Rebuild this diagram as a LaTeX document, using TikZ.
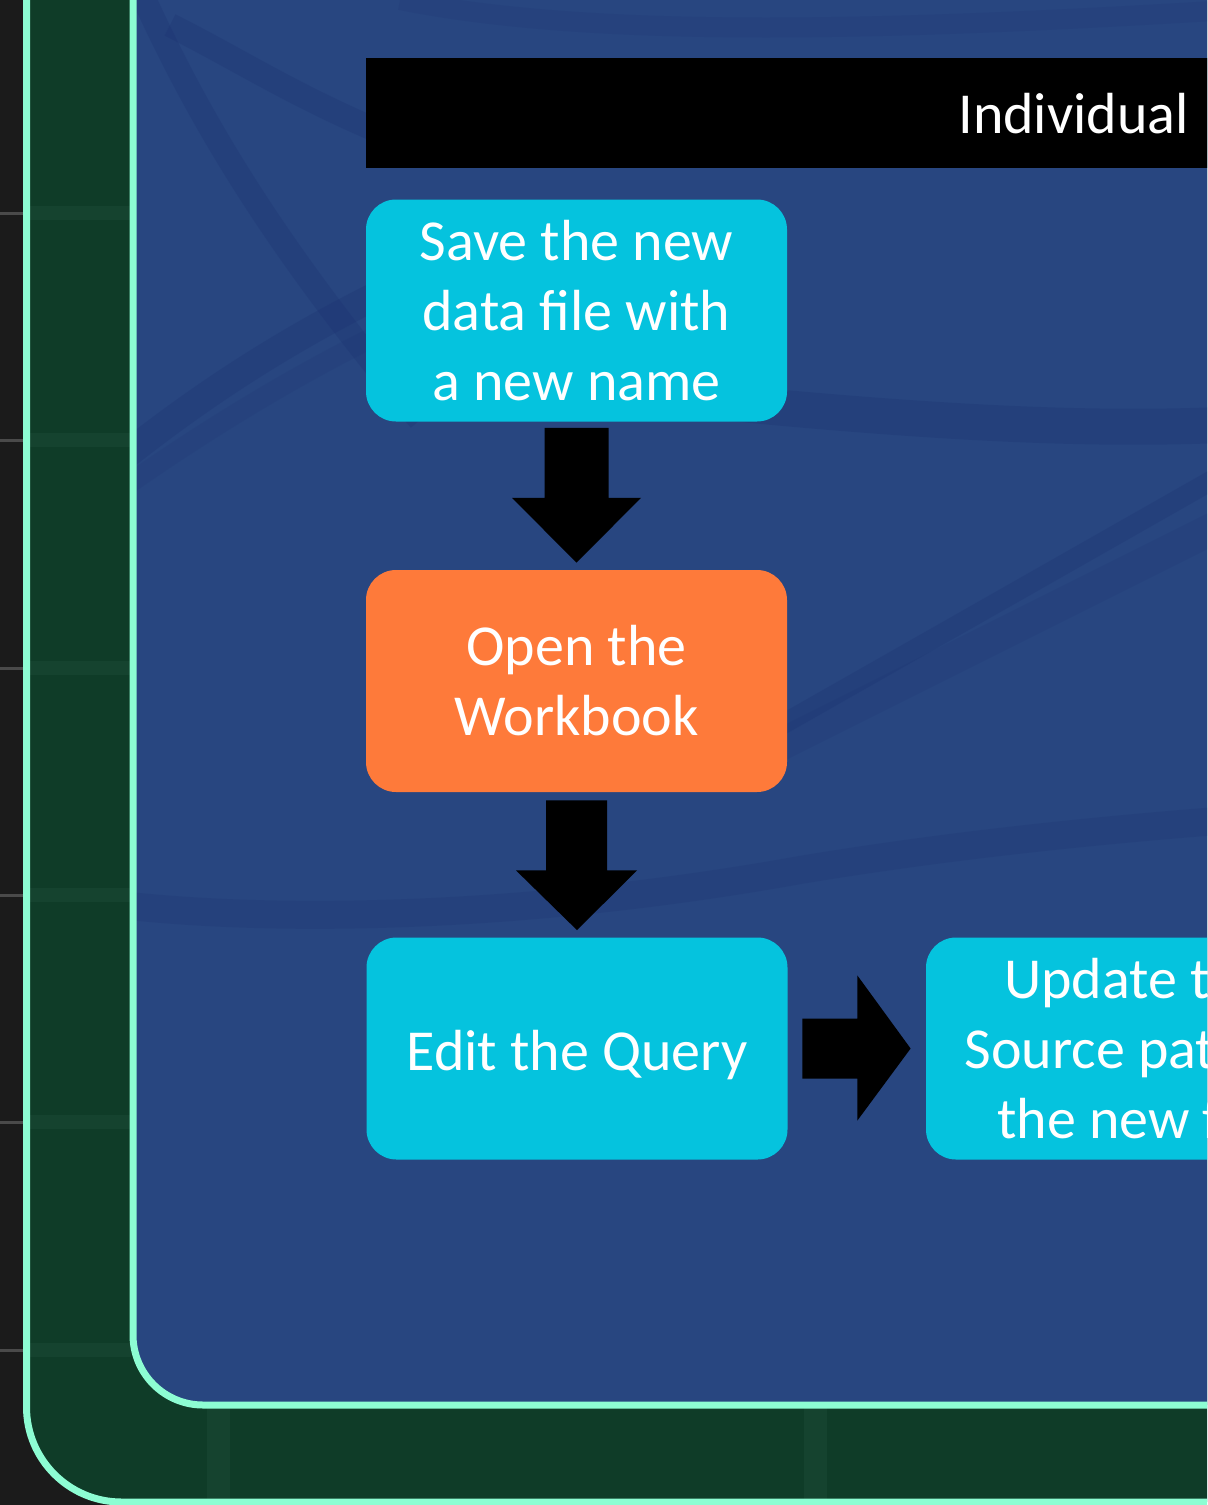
\documentclass[tikz,border=0pt]{standalone}
\usepackage{fontspec}
\setmainfont{Carlito}
\usetikzlibrary{calc}
\definecolor{darkbg}{HTML}{1B1B1B}
\definecolor{gridgray}{HTML}{4A4A4A}
\definecolor{mintc}{HTML}{8DFDD3}
\definecolor{greenc}{HTML}{0F3C28}
\definecolor{greenlight}{HTML}{15432F}
\definecolor{bluec}{HTML}{284680}
\definecolor{swooshc}{HTML}{1B3070}
\definecolor{cyanc}{HTML}{05C3DE}
\definecolor{orangec}{HTML}{FE7A3A}
\begin{document}
\begin{tikzpicture}[x=0.5pt,y=-0.5pt,
  stepbox/.style={rounded corners=15pt, minimum width=210.5pt, minimum height=111pt,
    text=white, align=center, inner sep=0pt, font=\fontsize{29}{35}\selectfont},
  cyanbox/.style={stepbox, fill=cyanc},
  orangebox/.style={stepbox, fill=orangec},
  blockarrow/.style={fill=black},
  swoosh/.style={draw=swooshc, opacity=0.25},
  headerbar/.style={fill=black, minimum height=55pt, minimum width=500pt, inner sep=0pt, anchor=north west}
]
\useasboundingbox (0,0) rectangle (1207,1505);
\begin{scope}
\clip (0,0) rectangle (1207,1505);
% dark background
\fill[darkbg] (0,0) rectangle (1207,1505);
\foreach \yy in {213,440,668,895,1122,1350}{
  \draw[gridgray, line width=1.5pt] (0,\yy) -- (24,\yy);
}
% outer green panel
\fill[greenc, rounded corners=47.5pt] (26.5,-200) rectangle (1500,1502);
\foreach \yy in {213,440,668,895,1122,1350}{
  \fill[greenlight] (29,\yy-7) rectangle (131,\yy+7);
}
\fill[greenlight] (207,1405) rectangle (230,1500);
\fill[greenlight] (804,1405) rectangle (827,1500);
\draw[mintc, line width=3.5pt, rounded corners=47.5pt] (26.5,-200) rectangle (1500,1502);
% inner blue panel
\fill[bluec, rounded corners=35pt] (133,-200) rectangle (1500,1405);
\begin{scope}
  \clip[rounded corners=35pt] (133,-200) rectangle (1500,1405);
  \draw[swoosh, line width=12pt] (140,-10) .. controls (190,100) and (260,230) .. (420,420);
  \draw[swoosh, line width=12pt] (170,25) .. controls (240,60) and (300,100) .. (400,140);
  \draw[swoosh, line width=14pt] (120,460) .. controls (220,380) and (320,320) .. (430,270);
  \draw[swoosh, line width=10pt, opacity=0.15] (120,490) .. controls (220,420) and (320,360) .. (430,310);
  \draw[swoosh, line width=18pt] (700,400) .. controls (950,425) and (1100,430) .. (1220,425);
  \draw[swoosh, line width=10pt] (720,760) -- (1230,470);
  \draw[swoosh, line width=16pt, opacity=0.15] (720,775) -- (1230,520);
  \draw[swoosh, line width=14pt, opacity=0.2] (120,905) .. controls (300,925) and (550,915) .. (800,870) .. controls (950,845) and (1100,830) .. (1230,820);
  \draw[swoosh, line width=10pt, opacity=0.15] (400,0) .. controls (600,40) and (900,30) .. (1230,10);
\end{scope}
\draw[mintc, line width=3.5pt, rounded corners=35pt] (133,-200) rectangle (1500,1405);
% header bar
\node[headerbar] (hdr) at (366,58) {};
\node[anchor=base west, text=white, inner sep=0pt, font=\fontsize{29}{35}\selectfont] (hdrtext) at (958,133) {Individual};
% steps
\node[cyanbox] (save) at (576.5,310.5) {Save the new\\data file with\\a new name};
\node[orangebox] (open) at (576.5,681) {Open the\\Workbook};
\node[cyanbox, text depth=0pt] (edit) at (577,1048.5) {\raisebox{-1.5pt}{Edit the Query}};
\node[cyanbox] (update) at (1136.5,1048.5) {Update the\\Source path to\\the new file};
% block arrows
\fill[blockarrow] ($(save.south)+(-32,6)$) -- ($(save.south)+(32,6)$) -- ($(save.south)+(32,76)$)
  -- ($(save.south)+(64.5,76)$) -- ($(open.north)+(0,-7)$) -- ($(save.south)+(-64.5,76)$)
  -- ($(save.south)+(-32,76)$) -- cycle;
\fill[blockarrow] ($(open.south)+(-30.5,8)$) -- ($(open.south)+(30.5,8)$) -- ($(open.south)+(30.5,78)$)
  -- ($(open.south)+(60.5,78)$) -- ($(edit.north)+(0,-7)$) -- ($(open.south)+(-60.5,78)$)
  -- ($(open.south)+(-30.5,78)$) -- cycle;
\fill[blockarrow] ($(edit.east)+(14.5,-30)$) -- ($(edit.east)+(69.5,-30)$) -- ($(edit.east)+(69.5,-73)$)
  -- ($(update.west)+(-15,0)$) -- ($(edit.east)+(69.5,72)$) -- ($(edit.east)+(69.5,30)$)
  -- ($(edit.east)+(14.5,30)$) -- cycle;
\end{scope}
\end{tikzpicture}
\end{document}
